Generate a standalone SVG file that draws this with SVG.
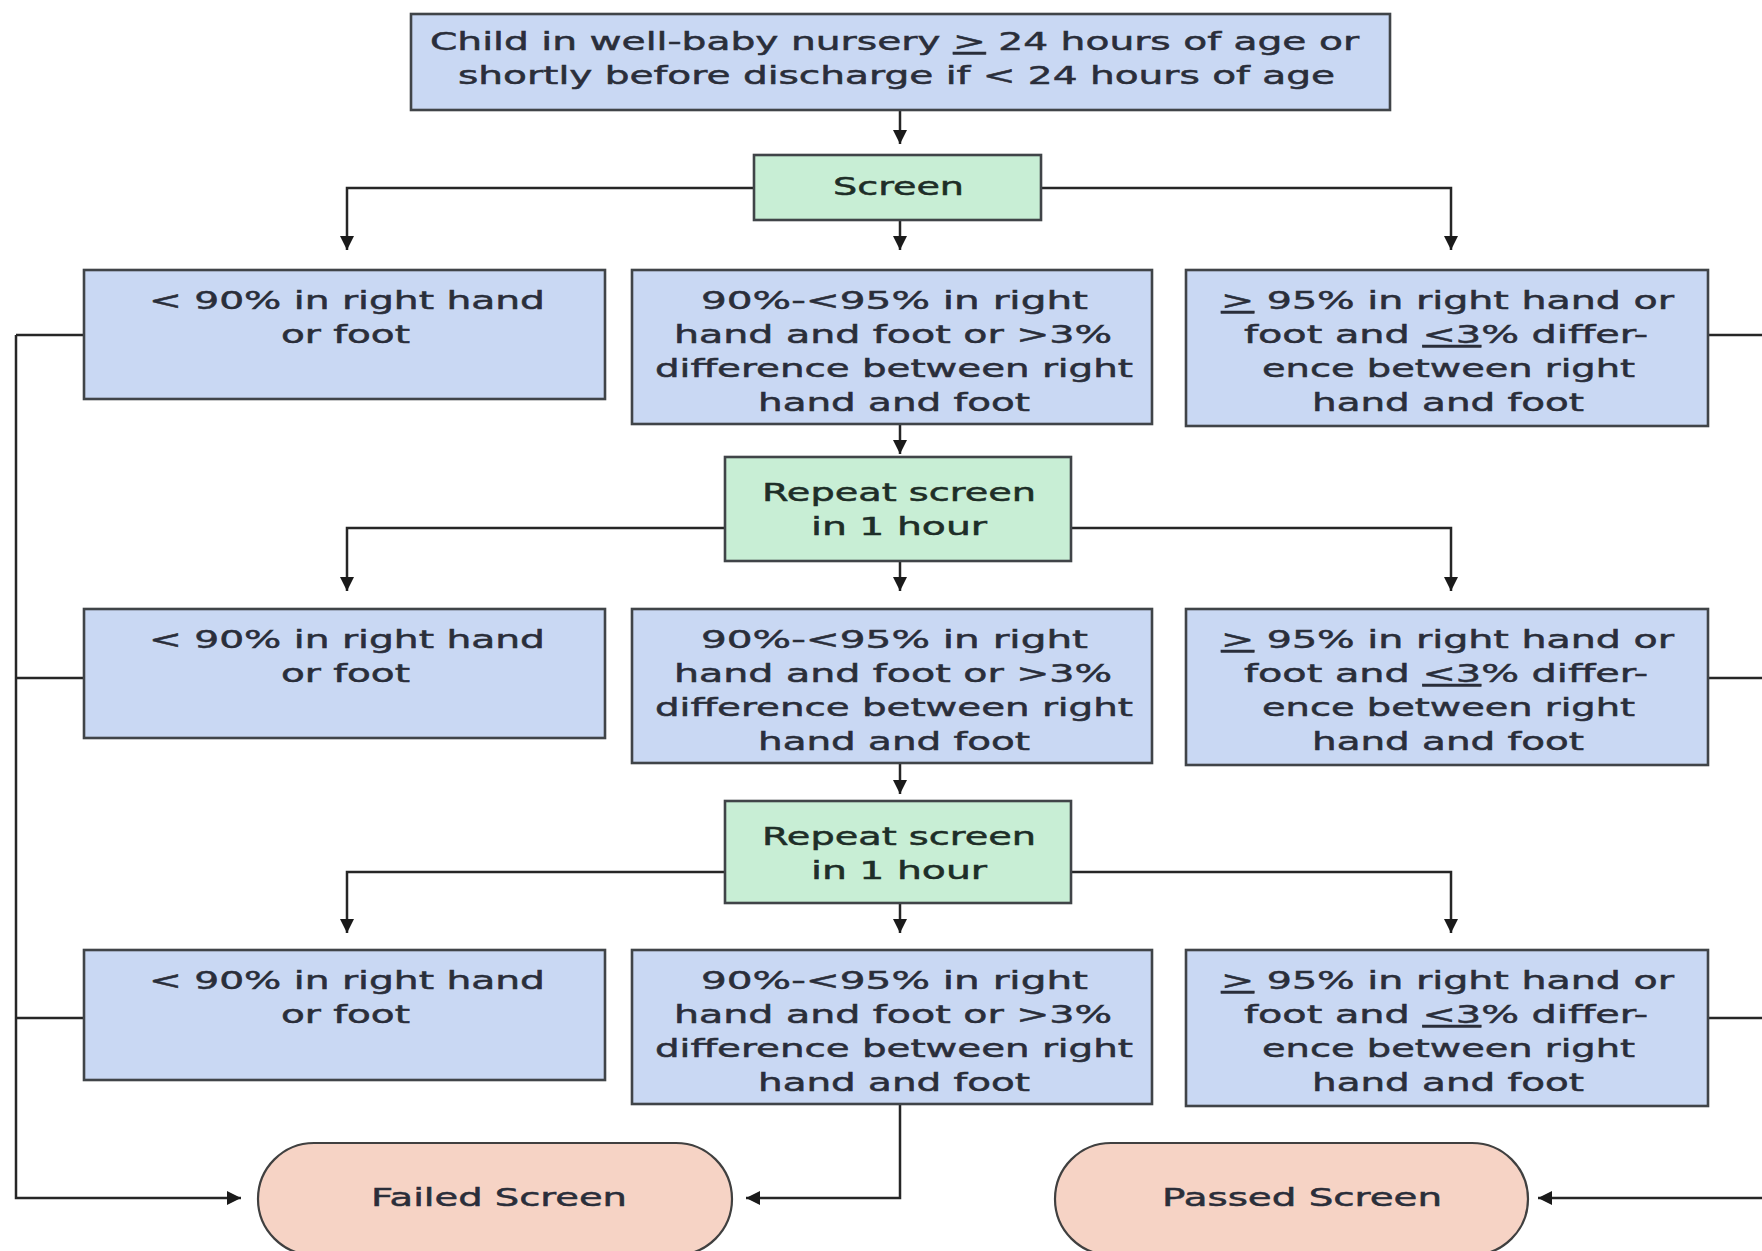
<svg xmlns="http://www.w3.org/2000/svg" width="1762" height="1251" viewBox="0 0 1762 1251">
<style>
.b{fill:#c9d8f3;stroke:#404448;stroke-width:2.6}
.g{fill:#c8eed5;stroke:#404448;stroke-width:2.6}
.p{fill:#f6d3c5;stroke:#404040;stroke-width:2.2}
text{font-family:"DejaVu Sans","Verdana",sans-serif;font-size:25px;fill:#2a2e3a;stroke:#2a2e3a;stroke-width:0.5}
.gt{fill:#1e2e28;stroke:#1e2e28}
.c{fill:none;stroke:#262626;stroke-width:2.5}
.u{text-decoration:underline}
</style>
<defs>
<marker id="ah" markerUnits="userSpaceOnUse" viewBox="0 0 14 14" refX="14" refY="7" markerWidth="14" markerHeight="14" orient="auto">
<path d="M0 0 L14 7 L0 14 z" fill="#1a1a1a"/>
</marker>
</defs>
<rect width="1762" height="1251" fill="#ffffff"/>

<g id="connectors">
<path class="c" d="M900 110 V144" marker-end="url(#ah)"/>
<path class="c" d="M754 188 H347 V250" marker-end="url(#ah)"/>
<path class="c" d="M1041 188 H1451 V250" marker-end="url(#ah)"/>
<path class="c" d="M900 220 V250" marker-end="url(#ah)"/>
<path class="c" d="M900 424 V454" marker-end="url(#ah)"/>
<path class="c" d="M725 528 H347 V591" marker-end="url(#ah)"/>
<path class="c" d="M1071 528 H1451 V591" marker-end="url(#ah)"/>
<path class="c" d="M900 561 V591" marker-end="url(#ah)"/>
<path class="c" d="M900 763 V794" marker-end="url(#ah)"/>
<path class="c" d="M725 872 H347 V933" marker-end="url(#ah)"/>
<path class="c" d="M1071 872 H1451 V933" marker-end="url(#ah)"/>
<path class="c" d="M900 903 V933" marker-end="url(#ah)"/>
<path class="c" d="M900 1104 V1198 H746" marker-end="url(#ah)"/>
<path class="c" d="M84 335 H16"/>
<path class="c" d="M84 678 H16"/>
<path class="c" d="M84 1018 H16"/>
<path class="c" d="M16 335 V1198 H241" marker-end="url(#ah)"/>
<path class="c" d="M1708 335 H1775"/>
<path class="c" d="M1708 678 H1775"/>
<path class="c" d="M1708 1018 H1775"/>
<path class="c" d="M1775 335 V1198 H1538" marker-end="url(#ah)"/>
</g>

<g id="start">
<rect class="b" x="411" y="14" width="979" height="96"/>
<text x="430" y="50" textLength="929" lengthAdjust="spacingAndGlyphs">Child in well-baby nursery <tspan class="u">&gt;</tspan> 24 hours of age or</text>
<text x="458" y="84" textLength="877" lengthAdjust="spacingAndGlyphs">shortly before discharge if &lt; 24 hours of age</text>
</g>

<g id="screen1">
<rect class="g" x="754" y="155" width="287" height="65"/>
<text class="gt" x="833" y="195" textLength="131" lengthAdjust="spacingAndGlyphs">Screen</text>
</g>

<g id="low1">
<rect class="b" x="84" y="270" width="521" height="129"/>
<text x="149" y="309" textLength="396" lengthAdjust="spacingAndGlyphs">&lt; 90% in right hand</text>
<text x="281" y="343" textLength="129" lengthAdjust="spacingAndGlyphs">or foot</text>
</g>
<g id="mid1">
<rect class="b" x="632" y="270" width="520" height="154"/>
<text x="701" y="309" textLength="387" lengthAdjust="spacingAndGlyphs">90%-&lt;95% in right</text>
<text x="674" y="343" textLength="438" lengthAdjust="spacingAndGlyphs">hand and foot or &gt;3%</text>
<text x="655" y="377" textLength="478" lengthAdjust="spacingAndGlyphs">difference between right</text>
<text x="758" y="411" textLength="272" lengthAdjust="spacingAndGlyphs">hand and foot</text>
</g>
<g id="high1">
<rect class="b" x="1186" y="270" width="522" height="156"/>
<text x="1221" y="309" textLength="453" lengthAdjust="spacingAndGlyphs"><tspan class="u">&gt;</tspan> 95% in right hand or</text>
<text x="1244" y="343" textLength="404" lengthAdjust="spacingAndGlyphs">foot and <tspan class="u">&lt;3</tspan>% differ-</text>
<text x="1262" y="377" textLength="373" lengthAdjust="spacingAndGlyphs">ence between right</text>
<text x="1312" y="411" textLength="272" lengthAdjust="spacingAndGlyphs">hand and foot</text>
</g>

<g id="repeat1">
<rect class="g" x="725" y="457" width="346" height="104"/>
<text class="gt" x="762" y="501" textLength="274" lengthAdjust="spacingAndGlyphs">Repeat screen</text>
<text class="gt" x="811" y="535" textLength="176" lengthAdjust="spacingAndGlyphs">in 1 hour</text>
</g>

<g id="low2">
<rect class="b" x="84" y="609" width="521" height="129"/>
<text x="149" y="648" textLength="396" lengthAdjust="spacingAndGlyphs">&lt; 90% in right hand</text>
<text x="281" y="682" textLength="129" lengthAdjust="spacingAndGlyphs">or foot</text>
</g>
<g id="mid2">
<rect class="b" x="632" y="609" width="520" height="154"/>
<text x="701" y="648" textLength="387" lengthAdjust="spacingAndGlyphs">90%-&lt;95% in right</text>
<text x="674" y="682" textLength="438" lengthAdjust="spacingAndGlyphs">hand and foot or &gt;3%</text>
<text x="655" y="716" textLength="478" lengthAdjust="spacingAndGlyphs">difference between right</text>
<text x="758" y="750" textLength="272" lengthAdjust="spacingAndGlyphs">hand and foot</text>
</g>
<g id="high2">
<rect class="b" x="1186" y="609" width="522" height="156"/>
<text x="1221" y="648" textLength="453" lengthAdjust="spacingAndGlyphs"><tspan class="u">&gt;</tspan> 95% in right hand or</text>
<text x="1244" y="682" textLength="404" lengthAdjust="spacingAndGlyphs">foot and <tspan class="u">&lt;3</tspan>% differ-</text>
<text x="1262" y="716" textLength="373" lengthAdjust="spacingAndGlyphs">ence between right</text>
<text x="1312" y="750" textLength="272" lengthAdjust="spacingAndGlyphs">hand and foot</text>
</g>

<g id="repeat2">
<rect class="g" x="725" y="801" width="346" height="102"/>
<text class="gt" x="762" y="845" textLength="274" lengthAdjust="spacingAndGlyphs">Repeat screen</text>
<text class="gt" x="811" y="879" textLength="176" lengthAdjust="spacingAndGlyphs">in 1 hour</text>
</g>

<g id="low3">
<rect class="b" x="84" y="950" width="521" height="130"/>
<text x="149" y="989" textLength="396" lengthAdjust="spacingAndGlyphs">&lt; 90% in right hand</text>
<text x="281" y="1023" textLength="129" lengthAdjust="spacingAndGlyphs">or foot</text>
</g>
<g id="mid3">
<rect class="b" x="632" y="950" width="520" height="154"/>
<text x="701" y="989" textLength="387" lengthAdjust="spacingAndGlyphs">90%-&lt;95% in right</text>
<text x="674" y="1023" textLength="438" lengthAdjust="spacingAndGlyphs">hand and foot or &gt;3%</text>
<text x="655" y="1057" textLength="478" lengthAdjust="spacingAndGlyphs">difference between right</text>
<text x="758" y="1091" textLength="272" lengthAdjust="spacingAndGlyphs">hand and foot</text>
</g>
<g id="high3">
<rect class="b" x="1186" y="950" width="522" height="156"/>
<text x="1221" y="989" textLength="453" lengthAdjust="spacingAndGlyphs"><tspan class="u">&gt;</tspan> 95% in right hand or</text>
<text x="1244" y="1023" textLength="404" lengthAdjust="spacingAndGlyphs">foot and <tspan class="u">&lt;3</tspan>% differ-</text>
<text x="1262" y="1057" textLength="373" lengthAdjust="spacingAndGlyphs">ence between right</text>
<text x="1312" y="1091" textLength="272" lengthAdjust="spacingAndGlyphs">hand and foot</text>
</g>

<g id="failed">
<rect class="p" x="258" y="1143" width="474" height="112" rx="56" ry="56"/>
<text x="371" y="1206" textLength="256" lengthAdjust="spacingAndGlyphs">Failed Screen</text>
</g>
<g id="passed">
<rect class="p" x="1055" y="1143" width="473" height="112" rx="56" ry="56"/>
<text x="1162" y="1206" textLength="280" lengthAdjust="spacingAndGlyphs">Passed Screen</text>
</g>
</svg>
